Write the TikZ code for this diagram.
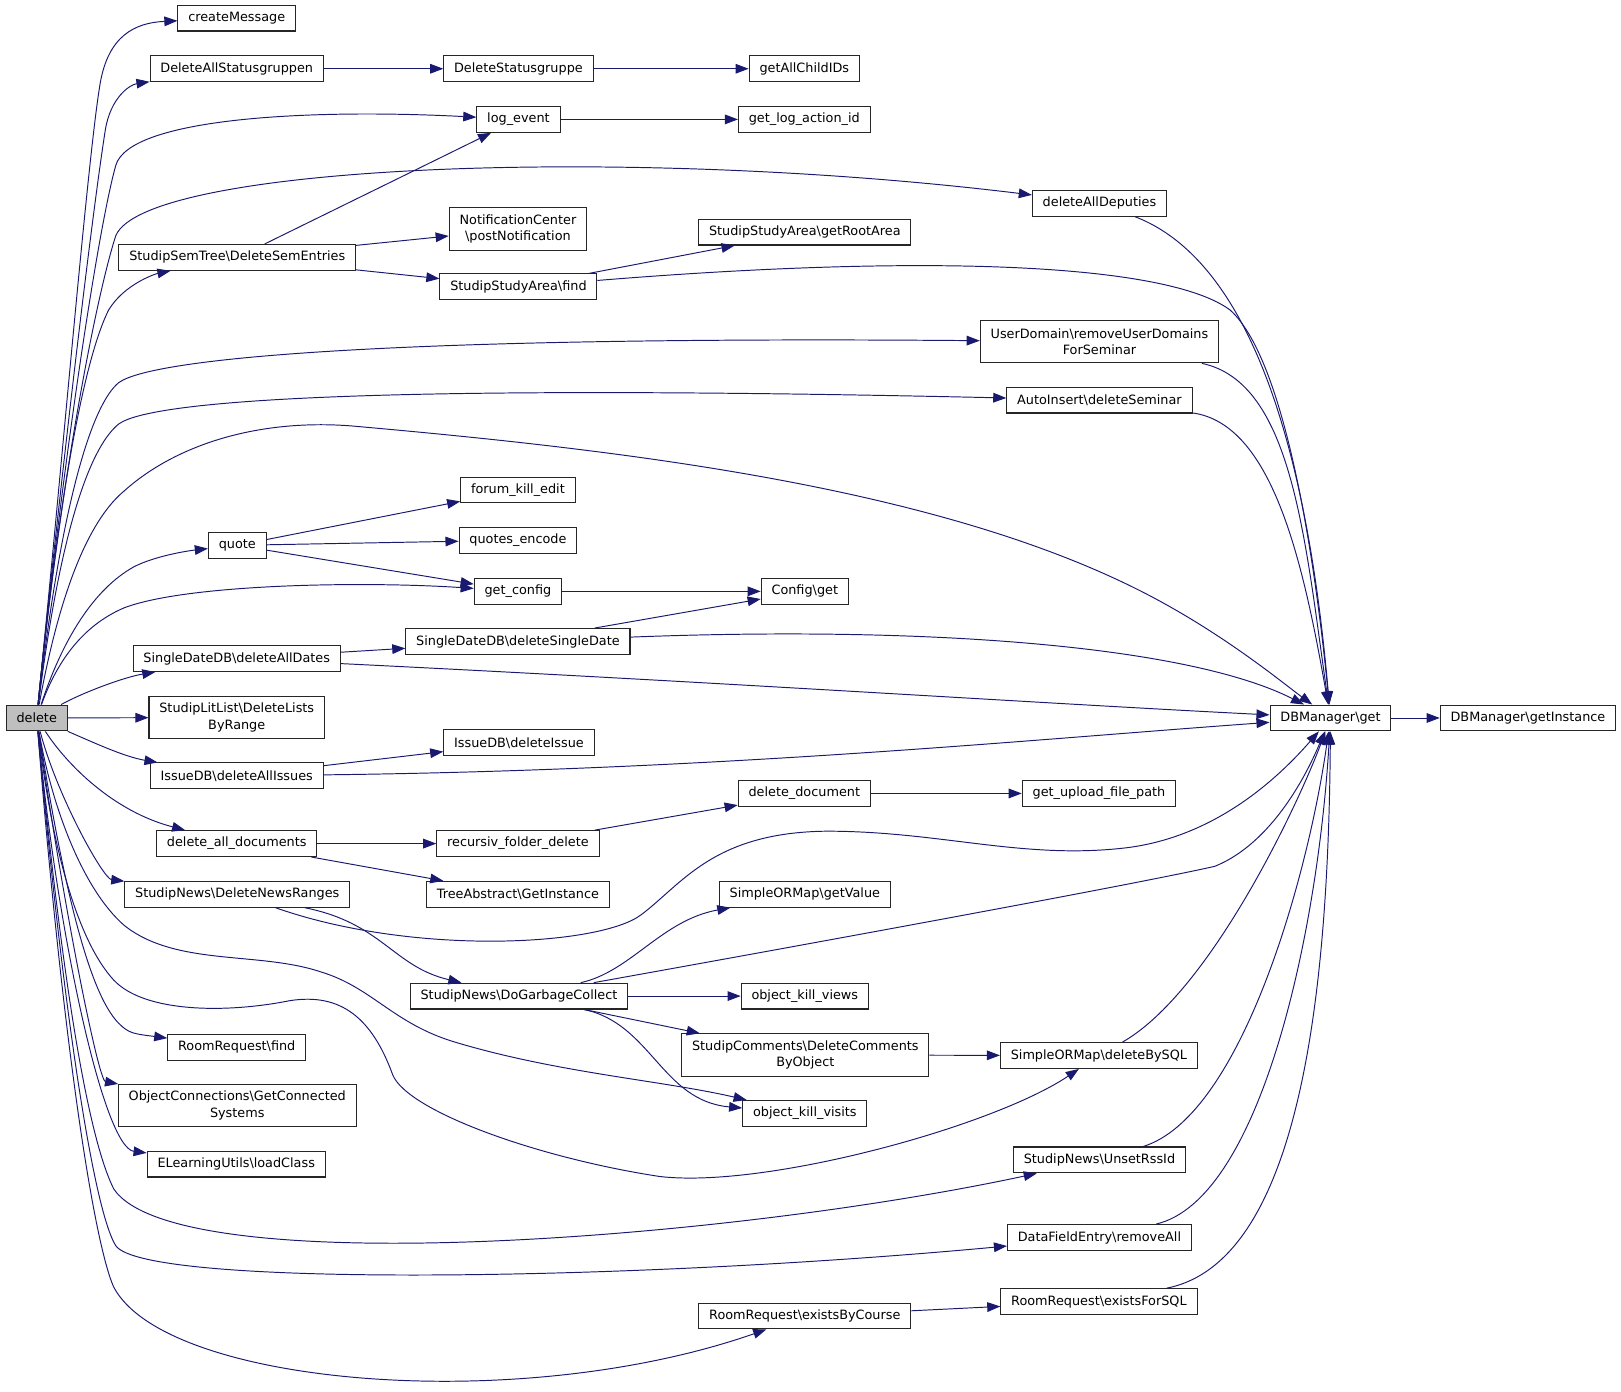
\documentclass[tikz,border=0pt]{standalone}
\usepackage{fontspec}
\setmainfont{DejaVu Sans}
\usetikzlibrary{arrows.meta}
\definecolor{callblue}{HTML}{191970}
\newcommand{\bsl}{\textbackslash}

\begin{document}
\begin{tikzpicture}[x=0.75pt,y=-0.75pt,
  fn/.style={draw=black!85,line width=0.75pt,fill=white,inner xsep=7.5pt,inner ysep=0pt,minimum height=18.75pt,font=\fontsize{9.3}{12}\selectfont},
  fntwo/.style={fn,align=center,minimum height=30.75pt},
  call/.style={draw=callblue,line width=0.7pt,-{Triangle[length=9.5pt,width=7pt]}}]

\useasboundingbox (0,0) rectangle (1568,1346);

%the caller
\node[fn,fill=black!25] (delete) at (35.5,694.5) {delete};

%called by delete
\node[fn] (createMessage) at (229,17.5) {createMessage};
\node[fn] (delAllGroups) at (229,66.5) {DeleteAllStatusgruppen};
\node[fn] (semEntries) at (229.5,249) {StudipSemTree\bsl DeleteSemEntries};
\node[fn] (quote) at (229.5,527.5) {quote};
\node[fn] (delAllDates) at (229,637) {SingleDateDB\bsl deleteAllDates};
\node[fntwo] (litList) at (229,694) {StudipLitList\bsl DeleteLists\\ByRange};
\node[fn] (delAllIssues) at (229,750.5) {IssueDB\bsl deleteAllIssues};
\node[fn] (delAllDocs) at (229,816) {delete\_all\_documents};
\node[fn] (newsRanges) at (229.5,865) {StudipNews\bsl DeleteNewsRanges};
\node[fn] (roomFind) at (229,1013) {RoomRequest\bsl find};
\node[fntwo] (objConn) at (229.5,1069.5) {ObjectConnections\bsl GetConnected\\Systems};
\node[fn] (elearn) at (228.5,1126) {ELearningUtils\bsl loadClass};

%third column
\node[fn] (delGroup) at (501.5,66.5) {DeleteStatusgruppe};
\node[fn] (logEvent) at (501.5,115.5) {log\_event};
\node[fntwo] (postNotif) at (501,221.5) {NotificationCenter\\\bsl postNotification};
\node[fn] (areaFind) at (501.5,277.5) {StudipStudyArea\bsl find};
\node[fn] (killEdit) at (501,474) {forum\_kill\_edit};
\node[fn] (quotesEnc) at (501,522.5) {quotes\_encode};
\node[fn] (getConfig) at (501,572) {get\_config};
\node[fn] (delSingleDate) at (501,620.5) {SingleDateDB\bsl deleteSingleDate};
\node[fn] (delIssue) at (502,718.5) {IssueDB\bsl deleteIssue};
\node[fn] (folderDelete) at (501,816) {recursiv\_folder\_delete};
\node[fn] (treeInst) at (501,865) {TreeAbstract\bsl GetInstance};
\node[fn] (garbage) at (502,963.5) {StudipNews\bsl DoGarbageCollect};

%fourth column
\node[fn] (childIDs) at (778,66.5) {getAllChildIDs};
\node[fn] (logActionId) at (778,115.5) {get\_log\_action\_id};
\node[fn] (rootArea) at (778.5,224.5) {StudipStudyArea\bsl getRootArea};
\node[fn] (configGet) at (778.5,572) {Config\bsl get};
\node[fn] (delDocument) at (778,767.5) {delete\_document};
\node[fn] (getValue) at (778.5,865) {SimpleORMap\bsl getValue};
\node[fn] (killViews) at (778.5,963.5) {object\_kill\_views};
\node[fntwo] (comments) at (779,1020.5) {StudipComments\bsl DeleteComments\\ByObject};
\node[fn] (killVisits) at (778.5,1077) {object\_kill\_visits};
\node[fn] (byCourse) at (778.5,1273) {RoomRequest\bsl existsByCourse};

%fifth column
\node[fn] (deputies) at (1063.5,196.5) {deleteAllDeputies};
\node[fntwo] (userDomains) at (1063.5,330.5) {UserDomain\bsl removeUserDomains\\ForSeminar};
\node[fn] (autoInsert) at (1063.5,387) {AutoInsert\bsl deleteSeminar};
\node[fn] (uploadPath) at (1063,767.5) {get\_upload\_file\_path};
\node[fn] (deleteBySQL) at (1063,1021) {SimpleORMap\bsl deleteBySQL};
\node[fn] (unsetRss) at (1063.5,1122) {StudipNews\bsl UnsetRssId};
\node[fn] (dataField) at (1063.5,1197) {DataFieldEntry\bsl removeAll};
\node[fn] (forSQL) at (1063,1259) {RoomRequest\bsl existsForSQL};

%database
\node[fn] (dbGet) at (1287,694.5) {DBManager\bsl get};
\node[fn] (dbInstance) at (1478,694.5) {DBManager\bsl getInstance};

%edges from delete
\draw[call] (delete) .. controls (60,450) and (85,150) .. (97,80) .. controls (105,35) and (130,22) .. (createMessage);
\draw[call] (delete) .. controls (60,450) and (90,200) .. (102,125) .. controls (107,95) and (125,82) .. (delAllGroups);
\draw[call] (delete) .. controls (60,450) and (95,220) .. (112,160) .. controls (125,114) and (300,105) .. (logEvent);
\draw[call] (delete) .. controls (60,450) and (95,280) .. (112,228) .. controls (140,160) and (600,140) .. (deputies);
\draw[call] (delete) .. controls (60,450) and (85,340) .. (105,300) .. controls (120,275) and (150,265) .. (semEntries);
\draw[call] (delete) .. controls (60,480) and (90,390) .. (115,370) .. controls (150,345) and (400,325) .. (userDomains);
\draw[call] (delete) .. controls (60,500) and (90,430) .. (115,410) .. controls (150,385) and (400,372) .. (autoInsert);
\draw[call] (delete) .. controls (60,560) and (90,500) .. (120,475) .. controls (170,430) and (250,405) .. (340,412)
  .. controls (600,435) and (900,470) .. (1100,570) .. controls (1180,610) and (1240,660) .. (dbGet);
\draw[call] (delete) .. controls (60,620) and (90,570) .. (130,548) .. controls (150,538) and (180,533) .. (quote);
\draw[call] (delete) .. controls (55,640) and (80,605) .. (120,588) .. controls (180,565) and (350,562) .. (getConfig);
\draw[call] (delete) .. controls (80,670) and (120,655) .. (delAllDates);
\draw[call] (delete) -- (litList);
\draw[call] (delete) .. controls (90,718) and (120,732) .. (delAllIssues);
\draw[call] (delete) .. controls (65,740) and (110,785) .. (delAllDocs);
\draw[call] (delete) .. controls (55,770) and (100,850) .. (newsRanges);
\draw[call] (delete) .. controls (50,780) and (80,860) .. (120,895) .. controls (170,935) and (250,920) .. (310,940)
  .. controls (360,955) and (380,990) .. (440,1008) .. controls (540,1038) and (640,1045) .. (killVisits);
\draw[call] (delete) .. controls (50,820) and (75,910) .. (110,948) .. controls (140,980) and (220,980) .. (280,968)
  .. controls (330,960) and (360,985) .. (380,1040) .. controls (395,1075) and (520,1120) .. (638,1138)
  .. controls (740,1150) and (960,1090) .. (deleteBySQL);
\draw[call] (delete) .. controls (60,850) and (85,960) .. (115,990) .. controls (125,1000) and (130,1000) .. (roomFind);
\draw[call] (delete) .. controls (60,870) and (95,1045) .. (objConn);
\draw[call] (delete) .. controls (55,900) and (100,1110) .. (elearn);
\draw[call] (delete) .. controls (60,950) and (85,1100) .. (110,1150) .. controls (170,1240) and (700,1200) .. (unsetRss);
\draw[call] (delete) .. controls (60,970) and (90,1170) .. (112,1205) .. controls (140,1245) and (600,1240) .. (dataField);
\draw[call] (delete) .. controls (60,1000) and (90,1200) .. (110,1245) .. controls (160,1340) and (500,1370) .. (byCourse);

%further calls
\draw[call] (delAllGroups) -- (delGroup);
\draw[call] (delGroup) -- (childIDs);
\draw[call] (logEvent) -- (logActionId);
\draw[call] (semEntries) -- (logEvent);
\draw[call] (semEntries) -- (postNotif);
\draw[call] (semEntries) -- (areaFind);
\draw[call] (areaFind) -- (rootArea);
\draw[call] (quote) -- (killEdit);
\draw[call] (quote) -- (quotesEnc);
\draw[call] (quote) -- (getConfig);
\draw[call] (getConfig) -- (configGet);
\draw[call] (delAllDates) -- (delSingleDate);
\draw[call] (delSingleDate) -- (configGet);
\draw[call] (delAllIssues) -- (delIssue);
\draw[call] (delAllDocs) -- (folderDelete);
\draw[call] (delAllDocs) -- (treeInst);
\draw[call] (folderDelete) -- (delDocument);
\draw[call] (delDocument) -- (uploadPath);
\draw[call] (newsRanges) .. controls (370,893) and (380,935) .. (garbage);
\draw[call] (garbage) .. controls (610,940) and (640,890) .. (getValue);
\draw[call] (garbage) -- (killViews);
\draw[call] (garbage) -- (comments);
\draw[call] (garbage) .. controls (630,990) and (640,1065) .. (killVisits);
\draw[call] (comments) -- (deleteBySQL);
\draw[call] (byCourse) -- (forSQL);

%calls into DBManager
\draw[call] (areaFind) .. controls (900,245) and (1130,255) .. (1190,300) .. controls (1240,345) and (1270,520) .. (dbGet);
\draw[call] (deputies) .. controls (1230,260) and (1270,500) .. (dbGet);
\draw[call] (userDomains) .. controls (1250,370) and (1262,520) .. (dbGet);
\draw[call] (autoInsert) .. controls (1230,410) and (1260,540) .. (dbGet);
\draw[call] (delAllDates) .. controls (700,660) and (1000,680) .. (dbGet);
\draw[call] (delSingleDate) .. controls (900,605) and (1150,625) .. (dbGet);
\draw[call] (delAllIssues) .. controls (700,745) and (1000,715) .. (dbGet);
\draw[call] (newsRanges) .. controls (400,925) and (580,915) .. (620,885) .. controls (660,855) and (690,805) .. (800,804)
  .. controls (910,804) and (990,832) .. (1090,820) .. controls (1170,810) and (1230,760) .. (dbGet);
\draw[call] (garbage) .. controls (800,910) and (1100,855) .. (1175,838) .. controls (1220,820) and (1255,770) .. (dbGet);
\draw[call] (deleteBySQL) .. controls (1170,960) and (1255,780) .. (dbGet);
\draw[call] (unsetRss) .. controls (1200,1080) and (1265,850) .. (dbGet);
\draw[call] (dataField) .. controls (1220,1160) and (1275,900) .. (dbGet);
\draw[call] (forSQL) .. controls (1260,1220) and (1285,950) .. (dbGet);
\draw[call] (dbGet) -- (dbInstance);

\end{tikzpicture}
\end{document}
